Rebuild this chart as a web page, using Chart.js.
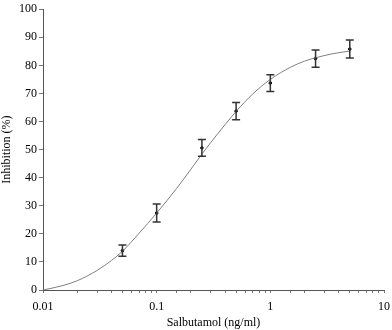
<!DOCTYPE html>
<html>
<head>
<meta charset="utf-8">
<script src="https://cdn.jsdelivr.net/npm/chart.js@4"></script>
<style>
  body { margin: 0; background: #fff; }
</style>
</head>
<body>
<canvas id="grafica" width="392" height="330"></canvas>
<script>
// puntos medidos (media y error)
const dosis = [0.05, 0.1, 0.25, 0.5, 1, 2.5, 5]
const inhibicion = [14.0, 27.4, 50.6, 63.7, 73.7, 82.4, 85.8]
const error = [2.0, 3.2, 3.0, 3.1, 3.0, 3.1, 3.2]

// curva ajustada
const curvaX = [0.01, 0.015, 0.02, 0.03, 0.04, 0.05, 0.07, 0.1, 0.15, 0.2, 0.25, 0.3, 0.4, 0.5, 0.7, 1, 1.5, 2, 2.5, 3.5, 5]
const curvaY = [0, 1.6, 3.3, 7.0, 10.5, 13.8, 20.2, 27.4, 36.2, 43.0, 48.4, 52.6, 58.9, 63.6, 69.8, 75.0, 79.3, 81.5, 82.7, 84.1, 85.1]

const etiquetasX = [0.01, 0.1, 1, 10]

// plugin para las barras de error
const barrasError = {
  id: 'barrasError',
  afterDatasetsDraw(chart) {
    const ctx = chart.ctx
    const x = chart.scales.x
    const y = chart.scales.y
    ctx.save()
    ctx.strokeStyle = '#333'
    ctx.lineWidth = 1.5
    dosis.forEach((d, i) => {
      const px = x.getPixelForValue(d)
      const top = y.getPixelForValue(inhibicion[i] + error[i])
      const bot = y.getPixelForValue(inhibicion[i] - error[i])
      ctx.beginPath()
      ctx.moveTo(px, top); ctx.lineTo(px, bot)
      ctx.moveTo(px - 4, top); ctx.lineTo(px + 4, top)
      ctx.moveTo(px - 4, bot); ctx.lineTo(px + 4, bot)
      ctx.stroke()
    })
    ctx.restore()
  }
}

const fuente = { family: 'Liberation Serif', size: 12 }

new Chart(document.querySelector('#grafica'), {
  type: 'scatter',
  data: {
    datasets: [
      {
        data: curvaX.map((v, i) => ({ x: v, y: curvaY[i] })),
        showLine: true,
        borderColor: '#808080',
        borderWidth: 1,
        pointRadius: 0,
        cubicInterpolationMode: 'monotone'
      },
      {
        data: dosis.map((v, i) => ({ x: v, y: inhibicion[i] })),
        backgroundColor: '#000',
        borderColor: '#000',
        pointRadius: 1.3
      }
    ]
  },
  options: {
    responsive: false,
    animation: false,
    layout: { padding: { top: 8, right: 0, left: 0, bottom: 0 } },
    plugins: { legend: { display: false }, tooltip: { enabled: false } },
    scales: {
      x: {
        type: 'logarithmic',
        min: 0.01,
        max: 10,
        border: { color: '#555', width: 1 },
        grid: { drawOnChartArea: false, color: '#777', tickLength: 3 },
        ticks: {
          color: '#000',
          font: fuente,
          maxRotation: 0,
          autoSkip: false,
          padding: 7,
          callback: (v) => etiquetasX.includes(v) ? String(v) : ''
        },
        title: { display: true, text: 'Salbutamol (ng/ml)', color: '#000', font: fuente, padding: { top: 2, bottom: 0 } },
        afterFit: (s) => { s.height = 40; s.paddingRight = 8 }
      },
      y: {
        min: 0,
        max: 100,
        border: { color: '#555', width: 1 },
        grid: { drawOnChartArea: false, color: '#777', tickLength: 4 },
        ticks: {
          stepSize: 5,
          color: '#000',
          font: fuente,
          padding: 2,
          callback: (v) => v % 10 === 0 ? String(v) : ''
        },
        title: { display: true, text: 'Inhibition (%)', color: '#000', font: fuente, padding: { top: 0, bottom: 2 } },
        afterFit: (s) => { s.width = 43 }
      }
    }
  },
  plugins: [barrasError]
})
</script>
</body>
</html>
